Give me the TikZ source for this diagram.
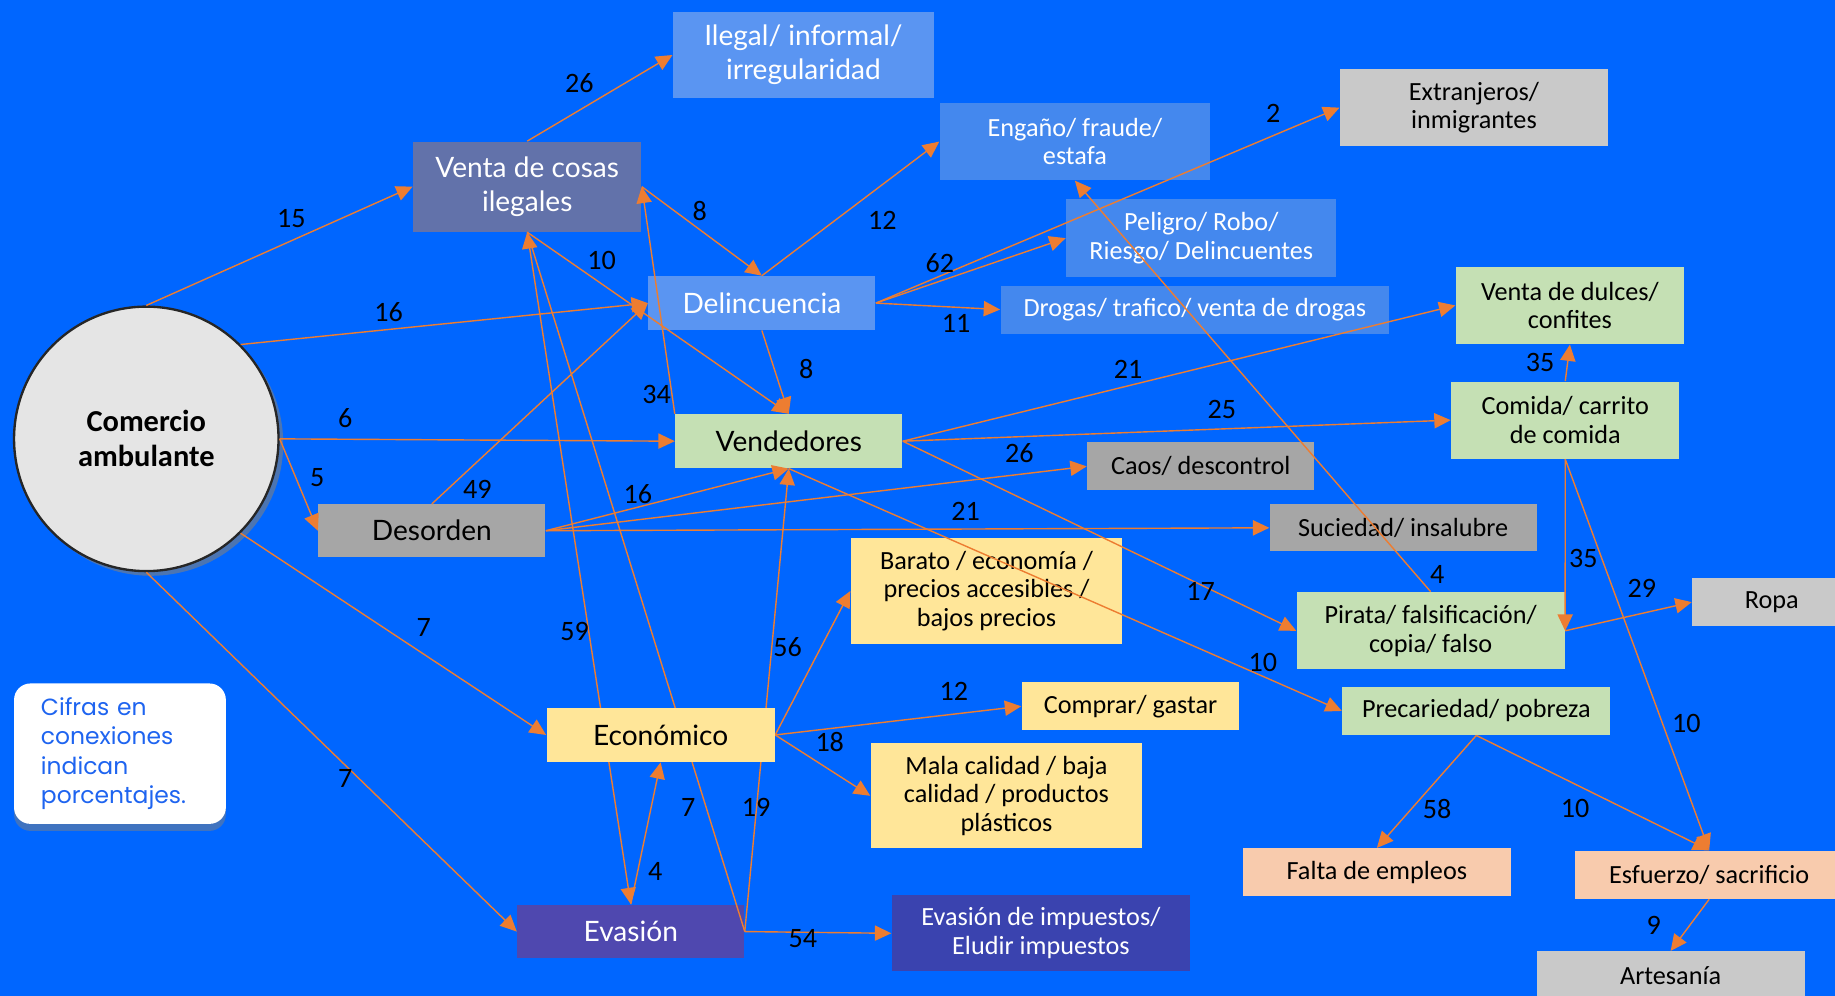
\documentclass[tikz,border=0pt]{standalone}
\usepackage{fontspec}
\setmainfont{Carlito}
\newfontfamily\latofont{Lato}
\newfontfamily\notafont{Poppins}
\usetikzlibrary{arrows.meta,shadows}

\definecolor{fondo}{RGB}{0,102,255}
\definecolor{naranja}{RGB}{237,125,49}
\definecolor{pizarra}{RGB}{98,114,170}
\definecolor{celeste}{RGB}{90,149,242}
\definecolor{azulcaja}{RGB}{68,136,238}
\definecolor{grisclaro}{RGB}{201,201,201}
\definecolor{gris}{RGB}{166,166,166}
\definecolor{verde}{RGB}{197,224,180}
\definecolor{amarillo}{RGB}{255,230,153}
\definecolor{durazno}{RGB}{248,203,173}
\definecolor{morado}{RGB}{79,72,175}
\definecolor{indigo}{RGB}{58,67,175}
\definecolor{textonota}{RGB}{30,100,240}

\pgfdeclarelayer{frente}
\pgfsetlayers{main,frente}

\tikzset{
  punta/.tip={Triangle[length=7pt,width=6.5pt]},
  caja/.style={rectangle, inner sep=0pt, align=center, font=\fontsize{11.2}{12.25}\selectfont},
  grande/.style={caja, font=\latofont\fontsize{12}{14.5}\selectfont},
  flecha/.style={draw=naranja, line width=0.6pt, -punta},
  cifra/.style={inner sep=0pt, font=\fontsize{12}{12}\selectfont},
}

\begin{document}
\begin{tikzpicture}[x=50pt, y=-50pt]
			%%%%% FONDO %%%%%
			\useasboundingbox (0, 0) rectangle (15.68, 8.51);
			\clip (0, 0) rectangle (15.68, 8.51);
			\fill[fondo] (0, 0) rectangle (15.68, 8.51);
			
			%%%%% NODOS %%%%%
			\node[circle, fill=black!10, draw=black!85, line width=1pt, minimum size=113pt, inner sep=0pt, align=center,
			      font=\bfseries\fontsize{13}{15}\selectfont, drop shadow={opacity=0.6, shadow xshift=2pt, shadow yshift=-2pt}]
			      (com) at (1.25, 3.75) {Comercio\\ambulante};
			\node[rectangle, rounded corners=7pt, fill=white, minimum width=90.5pt, minimum height=60pt, inner xsep=11.5pt,
			      text width=67.5pt, align=left, text=textonota, font=\notafont\fontsize{10}{12.5}\selectfont,
			      drop shadow={opacity=0.5, shadow xshift=0pt, shadow yshift=-3pt}]
			      (nota) at (1.025, 6.44) {Cifras en\\conexiones\\indican\\porcentajes.};
			
			\node[grande, fill=pizarra, text=white, minimum width=97.5pt, minimum height=38.5pt] (venta) at (4.505, 1.595) {Venta de cosas\\ilegales};
			\node[grande, fill=celeste, text=white, minimum width=111.5pt, minimum height=37pt] (ilegal) at (6.865, 0.47) {Ilegal/ informal/\\irregularidad};
			\node[caja, fill=azulcaja, text=white, minimum width=115.5pt, minimum height=33pt] (engano) at (9.185, 1.21) {Engaño/ fraude/\\estafa};
			\node[caja, fill=grisclaro, minimum width=114.5pt, minimum height=33pt] (extran) at (12.595, 0.92) {Extranjeros/\\inmigrantes};
			\node[caja, fill=azulcaja, text=white, minimum width=115.5pt, minimum height=33.5pt] (peligro) at (10.265, 2.035) {Peligro/ Robo/\\Riesgo/ Delincuentes};
			\node[grande, fill=celeste, text=white, minimum width=97pt, minimum height=23pt] (deli) at (6.51, 2.59) {Delincuencia};
			\node[caja, fill=azulcaja, text=white, minimum width=166pt, minimum height=20.5pt] (drogas) at (10.21, 2.645) {Drogas/ trafico/ venta de drogas};
			\node[caja, fill=verde, minimum width=97.5pt, minimum height=33pt] (dulces) at (13.415, 2.61) {Venta de dulces/\\confites};
			\node[caja, fill=verde, minimum width=97.5pt, minimum height=33pt] (comida) at (13.375, 3.59) {Comida/ carrito\\de comida};
			\node[grande, fill=verde, minimum width=97pt, minimum height=23pt] (vend) at (6.74, 3.77) {Vendedores};
			\node[caja, fill=gris, minimum width=97pt, minimum height=20.5pt] (caos) at (10.26, 3.985) {Caos/ descontrol};
			\node[grande, fill=gris, minimum width=97pt, minimum height=22.5pt] (desorden) at (3.69, 4.535) {Desorden};
			\node[caja, fill=gris, minimum width=114pt, minimum height=20pt] (suciedad) at (11.99, 4.51) {Suciedad/ insalubre};
			\node[caja, fill=amarillo, minimum width=116pt, minimum height=45pt] (barato) at (8.43, 5.05) {Barato / economía /\\precios accesibles /\\bajos precios};
			\node[caja, fill=verde, minimum width=114.5pt, minimum height=33pt] (pirata) at (12.225, 5.39) {Pirata/ falsificación/\\copia/ falso};
			\node[caja, fill=grisclaro, minimum width=68pt, minimum height=20.5pt] (ropa) at (15.14, 5.145) {Ropa};
			\begin{pgfonlayer}{frente}
				\node[grande, fill=amarillo, minimum width=97.5pt, minimum height=23pt] (eco) at (5.645, 6.28) {Económico};
			\end{pgfonlayer}
			\node[caja, fill=amarillo, minimum width=93pt, minimum height=20.5pt] (comprar) at (9.66, 6.035) {Comprar/ gastar};
			\node[caja, fill=verde, minimum width=114.5pt, minimum height=20.5pt] (precariedad) at (12.615, 6.075) {Precariedad/ pobreza};
			\node[caja, fill=amarillo, minimum width=116pt, minimum height=45pt] (mala) at (8.6, 6.8) {Mala calidad / baja\\calidad / productos\\plásticos};
			\node[caja, fill=durazno, minimum width=114.5pt, minimum height=20.5pt] (falta) at (11.765, 7.455) {Falta de empleos};
			\node[caja, fill=durazno, minimum width=114.5pt, minimum height=20.5pt] (esfuerzo) at (14.605, 7.475) {Esfuerzo/ sacrificio};
			\node[grande, fill=morado, text=white, minimum width=97pt, minimum height=23pt] (eva) at (5.39, 7.96) {Evasión};
			\node[caja, fill=indigo, text=white, minimum width=127.5pt, minimum height=32.5pt] (evimp) at (8.895, 7.975) {Evasión de impuestos/\\Eludir impuestos};
			\node[caja, fill=grisclaro, minimum width=114.5pt, minimum height=20.5pt] (artesania) at (14.275, 8.335) {Artesanía};
			
			%%%%% CONEXIONES %%%%%
			\foreach \a/\b in {com.north/venta.west, com.45/deli.west, com.east/vend.west, com.east/desorden.west,
			                   com.-45/eco.west, com.south/eva.west,
			                   venta.north/ilegal.west, venta.east/deli.north, venta.south/vend.north, vend.north west/venta.east,
			                   deli.north/engano.west, deli.east/extran.west, deli.east/peligro.west, deli.east/drogas.west,
			                   deli.south/vend.north,
			                   desorden.north/deli.west, desorden.east/vend.south, desorden.east/caos.west, desorden.east/suciedad.west,
			                   vend.east/dulces.west, vend.east/comida.west, vend.east/pirata.west, vend.south/precariedad.west,
			                   comida.north/dulces.south, comida.south/pirata.east, comida.south/esfuerzo.north,
			                   pirata.east/ropa.west, pirata.north/engano.south,
			                   precariedad.south/falta.north, precariedad.south/esfuerzo.north, esfuerzo.south/artesania.north,
			                   eco.east/barato.west, eco.east/comprar.west, eco.east/mala.west,
			                   eva.north/eco.south, eva.east/evimp.west, eva.east/vend.south}
				\draw[flecha] (\a) -- (\b);
			\draw[flecha, punta-punta] (venta.south) -- (eva.north);
			\draw[naranja, line width=0.6pt] (eva.east) -- (venta.south);
			
			%%%%% CIFRAS %%%%%
			\foreach \x/\y/\n [count=\i] in {2.49/1.87/15, 4.95/0.71/26, 3.32/2.67/16, 2.95/3.57/6, 2.71/4.08/5,
			                                 3.62/5.36/7, 2.95/6.65/7, 5.98/1.80/8, 5.14/2.23/10, 7.54/1.88/12,
			                                 10.88/0.97/2, 8.03/2.25/62, 8.17/2.76/11, 6.89/3.15/8, 5.61/3.37/34,
			                                 4.08/4.18/49, 5.45/4.22/16, 8.71/3.87/26, 8.25/4.37/21, 9.64/3.16/21,
			                                 10.44/3.50/25, 10.26/5.05/17, 10.79/5.66/10, 13.16/3.10/35, 13.53/4.77/35,
			                                 14.41/6.18/10, 14.03/5.03/29, 12.28/4.91/4, 12.28/6.91/58, 13.46/6.91/10,
			                                 14.13/7.91/9, 4.91/5.40/59, 5.88/6.90/7, 6.46/6.90/19, 6.73/5.53/56,
			                                 5.60/7.45/4, 8.15/5.91/12, 7.09/6.34/18, 6.86/8.02/54}
				\node[cifra] (c\i) at (\x, \y) {\n};
			
		\end{tikzpicture}
\end{document}
